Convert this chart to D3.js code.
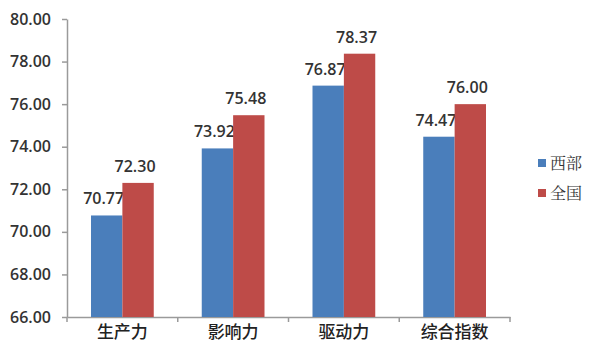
<!DOCTYPE html>
<html>
<head>
<meta charset="utf-8">
<script src="https://cdn.jsdelivr.net/npm/d3@7"></script>
<style>
  body { margin: 0; background: #fff; }
  text { font-family: "Open Sans", "Noto Sans CJK SC", sans-serif; }
</style>
</head>
<body>
<svg id="chart"></svg>
<script>
// данные диаграммы
const categories = ["生产力", "影响力", "驱动力", "综合指数"];
const seriesNames = ["西部", "全国"];
const westValues = [70.77, 73.92, 76.87, 74.47];
const nationValues = [72.30, 75.48, 78.37, 76.00];
const yTicks = [66, 68, 70, 72, 74, 76, 78, 80];
const colors = ["#4a7ebb", "#be4b48"];

const width = 600, height = 360;
const plotLeft = 67, plotRight = 510, plotTop = 19, plotBottom = 317;

const svg = d3.select("#chart").attr("width", width).attr("height", height);

const x = d3.scaleBand().domain(categories).range([plotLeft, plotRight]).paddingInner(0).paddingOuter(0);
const y = d3.scaleLinear().domain([66, 80]).range([plotBottom, plotTop]);
const inner = d3.scaleBand().domain(seriesNames).range([24, x.bandwidth() - 24]);

// ось OY
const axisY = d3.axisLeft(y).tickValues(yTicks).tickFormat(d3.format(".2f")).tickSize(5).tickSizeOuter(0);
const gy = svg.append("g").attr("transform", `translate(${plotLeft},0)`).call(axisY);
gy.selectAll("path, line").attr("stroke", "#9a9a9a").attr("stroke-width", 1.5);
gy.selectAll("text").attr("x", -16).attr("fill", "#333").style("font-size", "16px").style("font-weight", "600");

// ось OX
const axisX = d3.axisBottom(x).tickSize(0).tickSizeOuter(0);
const gx = svg.append("g").attr("transform", `translate(0,${plotBottom})`).call(axisX);
gx.select("path").attr("stroke", "#9a9a9a").attr("stroke-width", 1.5);
gx.selectAll("text").attr("y", 9).attr("fill", "#222")
  .style("font-family", "'Noto Sans CJK SC', sans-serif").style("font-size", "17px").style("font-weight", "500");
// деления между категориями
gx.selectAll(".sep").data(d3.range(categories.length + 1)).enter().append("line")
  .attr("x1", (i) => plotLeft + i * x.bandwidth()).attr("x2", (i) => plotLeft + i * x.bandwidth())
  .attr("y1", 0).attr("y2", 5).attr("stroke", "#9a9a9a").attr("stroke-width", 1.5);

// столбцы
const series = [westValues, nationValues];
series.forEach((vals, s) => {
  const g = svg.append("g");
  g.selectAll("rect").data(vals).enter().append("rect")
    .attr("x", (d, i) => x(categories[i]) + inner(seriesNames[s]))
    .attr("y", (d) => y(d))
    .attr("width", inner.bandwidth())
    .attr("height", (d) => plotBottom - y(d))
    .attr("fill", colors[s]);
  g.selectAll("text").data(vals).enter().append("text")
    .attr("x", (d, i) => x(categories[i]) + inner(seriesNames[s]) + inner.bandwidth() / 2 - 3)
    .attr("y", (d) => y(d) - 11)
    .attr("text-anchor", "middle")
    .attr("fill", "#333")
    .style("font-size", "16px").style("font-weight", "600")
    .text((d) => d.toFixed(2));
});

// легенда
const legend = svg.append("g").attr("transform", "translate(538,163)");
seriesNames.forEach((name, i) => {
  legend.append("rect").attr("x", 0).attr("y", i * 30 - 4).attr("width", 8).attr("height", 8).attr("fill", colors[i]);
  legend.append("text").attr("x", 12).attr("y", i * 30).attr("dy", "0.35em")
    .attr("fill", "#333").style("font-family", "'Noto Serif CJK SC', 'Noto Sans CJK SC', serif")
    .style("font-size", "16px").text(name);
});
</script>
</body>
</html>
